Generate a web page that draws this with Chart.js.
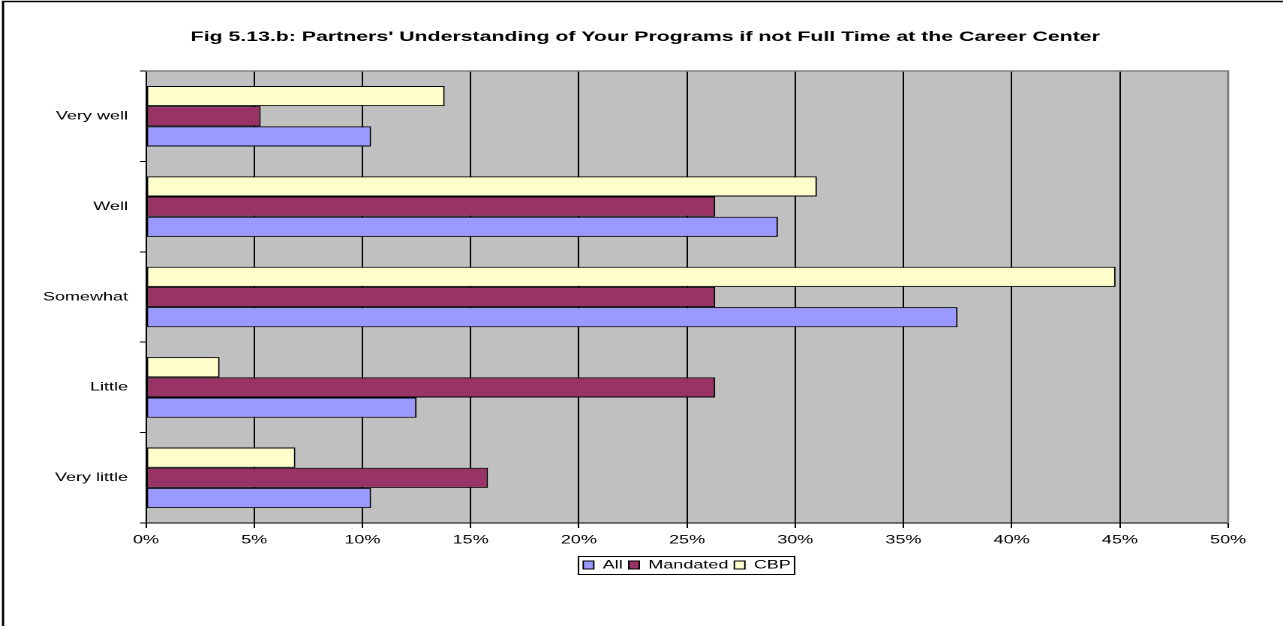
<!DOCTYPE html>
<html>
<head>
<meta charset="utf-8">
<script src="https://cdn.jsdelivr.net/npm/chart.js@4"></script>
<style>
    html, body { margin: 0; padding: 0; background: #fff; overflow: hidden; }
    #wrap { width: 875px; height: 626px; transform-origin: 0 0; transform: scaleX(1.5006); }
</style>
</head>
<body>
<div id="wrap"><canvas id="chart" width="875" height="626"></canvas></div>
<script>
const categories = ['Very well', 'Well', 'Somewhat', 'Little', 'Very little'];
const allValues = [10.4, 29.2, 37.5, 12.5, 10.4];
const mandatedValues = [5.3, 26.3, 26.3, 26.3, 15.8];
const cbpValues = [13.8, 31.0, 44.8, 3.4, 6.9];
const xTicks = [0, 5, 10, 15, 20, 25, 30, 35, 40, 45, 50];

const font = 'Arial, "Liberation Sans", sans-serif';

// plot area background, outer frame, legend box
const decor = {
    id: 'decor',
    beforeDraw(chart) {
        const ctx = chart.ctx;
        const a = chart.chartArea;
        ctx.save();
        ctx.fillStyle = '#fff';
        ctx.fillRect(0, 0, chart.width, chart.height);
        ctx.fillStyle = '#C0C0C0';
        ctx.fillRect(a.left, a.top, a.right - a.left, a.bottom - a.top);
        ctx.restore();
    },
    afterDraw(chart) {
        const ctx = chart.ctx;
        const a = chart.chartArea;
        ctx.save();
        ctx.strokeStyle = '#808080';
        ctx.lineWidth = 1.5;
        ctx.beginPath();
        ctx.moveTo(a.left, a.top);
        ctx.lineTo(a.right, a.top);
        ctx.lineTo(a.right, a.bottom);
        ctx.stroke();

        // chart frame
        ctx.strokeStyle = '#000';
        ctx.lineWidth = 1.5;
        ctx.beginPath();
        ctx.moveTo(2, chart.height + 5);
        ctx.lineTo(2, 1.5);
        ctx.lineTo(chart.width + 5, 1.5);
        ctx.stroke();

        // legend border
        const boxes = chart.legend.legendHitBoxes;
        if (boxes && boxes.length) {
            let l = Infinity, r = -Infinity, t = Infinity, b = -Infinity;
            boxes.forEach(h => {
                l = Math.min(l, h.left);
                r = Math.max(r, h.left + h.width);
                t = Math.min(t, h.top);
                b = Math.max(b, h.top + h.height);
            });
            ctx.strokeStyle = '#000';
            ctx.lineWidth = 1;
            ctx.strokeRect(Math.round(l - 4) + 0.5, Math.round(t - 3) + 0.5, Math.round(r - l + 6), Math.round(b - t + 6));
        }
        ctx.restore();
    }
};

new Chart(document.getElementById('chart'), {
    type: 'bar',
    data: {
        labels: categories,
        datasets: [
            { label: 'CBP', data: cbpValues, backgroundColor: '#FFFFCC' },
            { label: 'Mandated', data: mandatedValues, backgroundColor: '#993366' },
            { label: 'All', data: allValues, backgroundColor: '#9999FF' }
        ]
    },
    options: {
        indexAxis: 'y',
        responsive: false,
        devicePixelRatio: 2,
        animation: false,
        datasets: {
            bar: {
                borderColor: '#000',
                borderWidth: 1,
                borderSkipped: false,
                categoryPercentage: 0.67,
                barPercentage: 1.0
            }
        },
        layout: { padding: { left: 0, right: 15, top: 0, bottom: 45 } },
        scales: {
            x: {
                min: 0,
                max: 50,
                afterBuildTicks: scale => { scale.ticks = xTicks.map(v => ({ value: v })); },
                afterFit: scale => { scale.height = 32; },
                grid: {
                    color: c => (c.tick && c.tick.value === 50) ? '#808080' : '#000',
                    tickColor: '#000',
                    tickLength: 5,
                    lineWidth: 1
                },
                border: { color: '#000', width: 1 },
                ticks: {
                    padding: 5,
                    color: '#000',
                    font: { family: font, size: 12 },
                    maxRotation: 0,
                    callback: v => v + '%'
                }
            },
            y: {
                afterFit: scale => { scale.width = 97.3; },
                grid: {
                    offset: true,
                    drawOnChartArea: false,
                    color: '#000',
                    tickLength: 4
                },
                border: { color: '#000', width: 1 },
                ticks: {
                    padding: 8,
                    color: '#000',
                    font: { family: font, size: 12 }
                }
            },
            // empty right-hand space so the title can sit a bit right of the plot centre
            spacer: {
                type: 'category',
                axis: 'y',
                position: 'right',
                afterFit: scale => { scale.width = 41.6; },
                grid: { display: false },
                border: { display: false },
                ticks: { display: false }
            }
        },
        plugins: {
            title: {
                display: true,
                text: "Fig 5.13.b: Partners' Understanding of Your Programs if not Full Time at the Career Center",
                color: '#000',
                font: { family: font, size: 14.2, weight: 'bold', lineHeight: 1.2 },
                padding: { top: 28.5, bottom: 25.5 }
            },
            legend: {
                position: 'bottom',
                fullSize: false,
                reverse: true,
                labels: {
                    boxWidth: 7,
                    boxHeight: 8,
                    padding: 4,
                    color: '#000',
                    font: { family: font, size: 12 }
                }
            },
            tooltip: { enabled: false }
        }
    },
    plugins: [decor]
});
</script>
</body>
</html>
